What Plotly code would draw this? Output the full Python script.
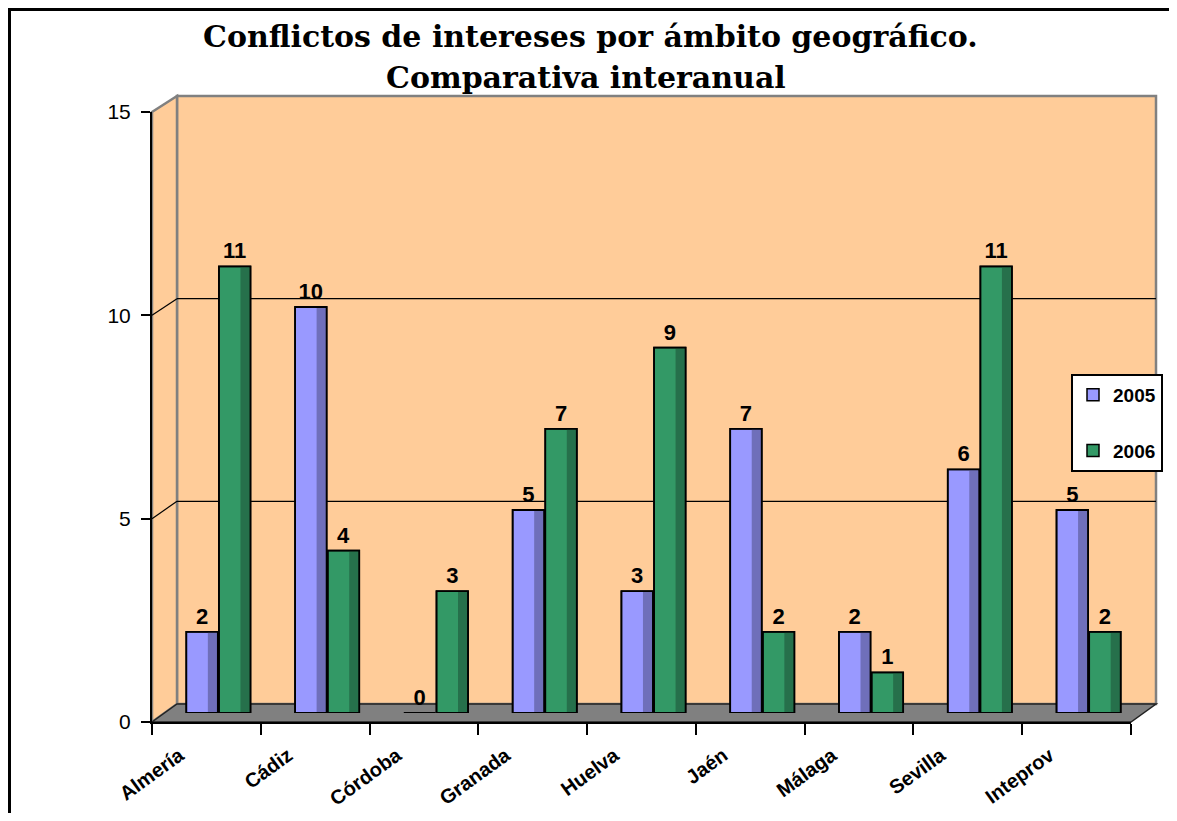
import plotly.graph_objects as go

# ---------------- data ----------------
categories = ["Almería", "Cádiz", "Córdoba", "Granada", "Huelva", "Jaén", "Málaga", "Sevilla", "Inteprov"]
series_names = ["2005", "2006"]
values_2005 = [2, 10, 0, 5, 3, 7, 2, 6, 5]
values_2006 = [11, 4, 3, 7, 9, 2, 1, 11, 2]
y_ticks = [0, 5, 10, 15]
title_lines = ["Conflictos de intereses por ámbito geográfico.", "Comparativa interanual"]

# ---------------- geometry helpers (page pixels -> paper) ----------------
OX, OY = 8, 8          # default page body margin
W, H = 1177 - 2 * OX, 821 - 2 * OY
def px(x):
    return (x - OX) / W
def py(y):
    return 1 - (y - OY) / H

FX0, FX1 = 152, 1131   # front axis
FY0, FY15 = 722, 112
BX0, BX1 = 177, 1156   # back wall
BY0, BY15 = 704, 96
DX = 12                # bar plane shift (mid depth)
BAR_Y0 = 713
BAR_UNIT = 40.6

def back_y(v):
    return BY0 - (BY0 - BY15) * v / 15.0
def front_y(v):
    return FY0 - (FY0 - FY15) * v / 15.0

xpos = list(range(len(categories)))

PEACH = "#FFCC99"
GREY = "#808080"
BLUE = "#9999FF"
BLUE_D = "#6F6FBA"
GREEN = "#339966"
GREEN_D = "#26704B"

fig = go.Figure()

bar_w = 0.29
offsets = [-0.295, 0.005]
colors = [BLUE, GREEN]
dark = [BLUE_D, GREEN_D]
vals = [values_2005, values_2006]

for name, v, off, c in zip(series_names, vals, offsets, colors):
    fig.add_trace(go.Bar(
        x=xpos, y=v, name=name, width=bar_w, offset=off,
        marker=dict(color=c, line=dict(color="black", width=1.5)),
        xaxis="x2", yaxis="y2", legendgroup=name, hoverinfo="skip",
    ))
for name, v, off, c in zip(series_names, vals, offsets, dark):
    fig.add_trace(go.Bar(
        x=xpos, y=v, width=0.085, offset=off + bar_w - 0.092,
        marker=dict(color=c, line=dict(width=0)),
        xaxis="x2", yaxis="y2", showlegend=False, hoverinfo="skip",
    ))
for name, v, off in zip(series_names, vals, offsets):
    fig.add_trace(go.Bar(
        x=xpos, y=v, width=bar_w, offset=off,
        marker=dict(color="rgba(0,0,0,0)", line=dict(color="black", width=1.8)),
        text=[str(t) for t in v], textposition="outside", cliponaxis=False,
        constraintext="none",
        textfont=dict(family="Arial, Liberation Sans", size=22, color="black", weight="bold"),
        xaxis="x2", yaxis="y2", showlegend=False, hoverinfo="skip",
    ))

# invisible traces so the front axes and label axis get drawn
fig.add_trace(go.Scatter(x=xpos, y=values_2005, mode="markers", marker=dict(opacity=0),
                         xaxis="x", yaxis="y", showlegend=False, hoverinfo="skip"))
fig.add_trace(go.Scatter(x=xpos, y=values_2006, mode="markers", marker=dict(opacity=0),
                         xaxis="x3", yaxis="y", showlegend=False, hoverinfo="skip"))

shapes = []
shapes.append(dict(type="rect", xref="paper", yref="paper",
                   x0=px(9.5), x1=px(1200), y0=py(9.5), y1=py(860),
                   line=dict(color="black", width=3), fillcolor="rgba(0,0,0,0)", layer="below"))
shapes.append(dict(type="rect", xref="paper", yref="paper",
                   x0=px(BX0), x1=px(BX1), y0=py(BY0), y1=py(BY15),
                   fillcolor=PEACH, line=dict(color=GREY, width=2.5), layer="below"))
shapes.append(dict(type="path", xref="paper", yref="paper",
                   path=f"M {px(FX0)} {py(FY15)} L {px(BX0)} {py(BY15)} L {px(BX0)} {py(BY0)} L {px(FX0)} {py(FY0)} Z",
                   fillcolor=PEACH, line=dict(color=GREY, width=2.5), layer="below"))
shapes.append(dict(type="path", xref="paper", yref="paper",
                   path=f"M {px(FX0)} {py(FY0)} L {px(FX1)} {py(FY0)} L {px(BX1)} {py(BY0)} L {px(BX0)} {py(BY0)} Z",
                   fillcolor=GREY, line=dict(color="#222222", width=1.5), layer="below"))
for v in y_ticks[1:-1]:
    shapes.append(dict(type="line", xref="paper", yref="paper",
                       x0=px(BX0), x1=px(BX1), y0=py(back_y(v)), y1=py(back_y(v)),
                       line=dict(color="black", width=1.2), layer="below"))
    shapes.append(dict(type="line", xref="paper", yref="paper",
                       x0=px(FX0), x1=px(BX0), y0=py(front_y(v)), y1=py(back_y(v)),
                       line=dict(color="black", width=1.2), layer="below"))

bar_top = BAR_Y0 - BAR_UNIT * 15
title_font = dict(family="DejaVu Serif", size=30, color="black", weight="bold")

fig.update_layout(
    width=W, height=H,
    margin=dict(l=0, r=0, t=0, b=0, autoexpand=False),
    paper_bgcolor="white",
    plot_bgcolor="rgba(0,0,0,0)",
    barmode="overlay",
    shapes=shapes,
    showlegend=True,
    legend=dict(
        x=px(1071), y=py(374), xanchor="left", yanchor="top",
        bgcolor="white", bordercolor="black", borderwidth=2,
        font=dict(family="Arial, Liberation Sans", size=19, color="black", weight="bold"),
        tracegroupgap=28, traceorder="grouped", itemwidth=30,
    ),
    xaxis=dict(
        domain=[px(FX0), px(FX1)], range=[-0.5, len(categories) - 0.5],
        tickmode="array", tickvals=[i - 0.5 for i in range(len(categories) + 1)],
        showticklabels=False, ticks="outside", ticklen=11, tickwidth=2, tickcolor="black",
        showline=True, linecolor="black", linewidth=2, showgrid=False, zeroline=False,
        anchor="y", fixedrange=True, automargin=False,
    ),
    yaxis=dict(
        domain=[py(FY0), py(FY15)], range=[0, 15],
        tickmode="array", tickvals=y_ticks, ticktext=[str(t) for t in y_ticks],
        ticks="outside", ticklen=9, tickwidth=2, tickcolor="black", ticklabelstandoff=6,
        showline=True, linecolor="black", linewidth=2, showgrid=False, zeroline=False,
        tickfont=dict(family="Arial, Liberation Sans", size=21, color="black"),
        anchor="x", fixedrange=True, automargin=False,
    ),
    xaxis2=dict(
        domain=[px(FX0 + DX), px(FX1 + DX)], range=[-0.5, len(categories) - 0.5],
        visible=False, anchor="y2", fixedrange=True, automargin=False,
    ),
    yaxis2=dict(
        domain=[py(BAR_Y0), py(bar_top)], range=[0, 15],
        visible=False, anchor="x2", fixedrange=True, automargin=False,
    ),
    xaxis3=dict(
        domain=[px(FX0 - 27), px(FX1 - 27)], range=[-0.5, len(categories) - 0.5],
        tickmode="array", tickvals=xpos, ticktext=categories, tickangle=-36,
        ticks="", showline=False, showgrid=False, zeroline=False, ticklabelstandoff=17,
        tickfont=dict(family="Arial, Liberation Sans", size=20, color="black", weight="bold"),
        anchor="y", fixedrange=True, automargin=False,
    ),
    annotations=[
        dict(text=title_lines[0], xref="paper", yref="paper", x=px(590), y=py(36),
             xanchor="center", yanchor="middle", showarrow=False, font=title_font),
        dict(text=title_lines[1], xref="paper", yref="paper", x=px(586), y=py(77),
             xanchor="center", yanchor="middle", showarrow=False, font=title_font),
    ],
)

fig.write_html("out.html")
